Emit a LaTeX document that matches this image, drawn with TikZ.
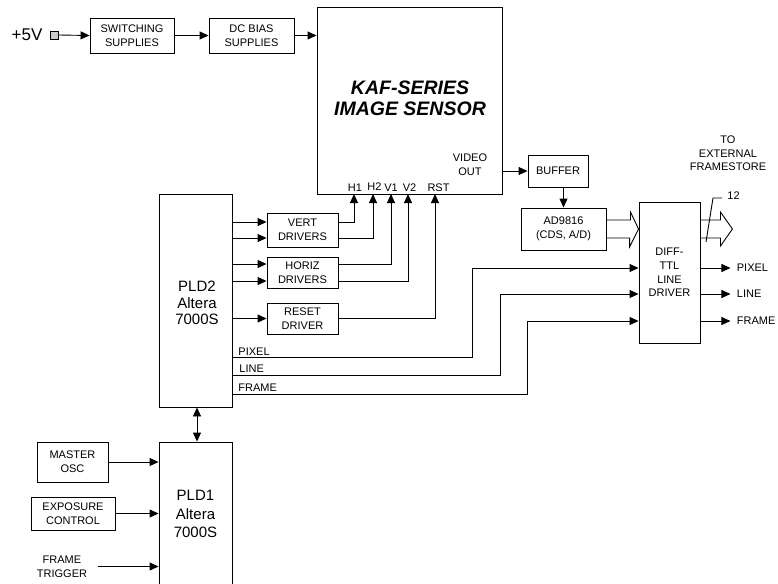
\documentclass[tikz,border=0pt]{standalone}
\usepackage{fontspec}
\setmainfont{Liberation Sans}
\usetikzlibrary{arrows.meta,calc}

\newcommand{\lblsize}{\fontsize{11}{13.7}\selectfont}

\begin{document}
\begin{tikzpicture}[x=1pt,y=-1pt,>={Triangle[length=9pt,width=8pt]},
  line width=0.9pt,
  blk/.style={draw,align=center,inner sep=0pt,font=\lblsize},
  lbl/.style={align=center,inner sep=0pt,font=\lblsize},
  sig/.style={->}]
  \useasboundingbox (0,0) rectangle (778,583);

  % supplies and sensor
  \node[font=\fontsize{17}{19}\selectfont,inner sep=0pt] (fivev) at (27,35) {+5V};
  \node[draw,fill=gray!40,line width=0.6pt,minimum size=8pt,inner sep=0pt] (sq) at (54.5,35) {};
  \node[blk,minimum width=84pt,minimum height=35pt] (sw) at (132,35.5) {SWITCHING\\SUPPLIES};
  \node[blk,minimum width=85pt,minimum height=35pt] (dcb) at (251.5,35.5) {DC BIAS\\SUPPLIES};
  \node[draw,minimum width=185pt,minimum height=187pt,inner sep=0pt] (sensor) at (409.5,100.5) {};
  \node[align=center,inner sep=0pt,font=\fontsize{19.5}{21}\selectfont\bfseries\itshape] (title) at (410,98.5) {KAF-SERIES\\IMAGE SENSOR};
  \node[lbl] (vout) at (470,165) {VIDEO\\OUT};
  \draw[sig] (sq.east) -- (sw.west);
  \draw[sig] (sw.east) -- (dcb.west);
  \draw[sig] (dcb.east) -- (dcb.east -| sensor.west);

  % sensor clock pins
  \node[lbl,anchor=base] (lH1) at (355,191.5) {H1};
  \node[lbl,anchor=base] (lH2) at (374.5,190.5) {H2};
  \node[lbl,anchor=base] (lV1) at (391,191.5) {V1};
  \node[lbl,anchor=base] (lV2) at (409.5,191.5) {V2};
  \node[lbl,anchor=base] (lRST) at (438.5,191.5) {RST};
  \coordinate (pH1) at (354,194);
  \coordinate (pH2) at (373,194);
  \coordinate (pV1) at (391,194);
  \coordinate (pV2) at (408,194);
  \coordinate (pRST) at (435,194);

  % analog chain
  \node[blk,minimum width=60pt,minimum height=32pt] (buffer) at (558,171) {BUFFER};
  \node[blk,minimum width=85pt,minimum height=42pt] (ad) at (563.5,229) {AD9816\\(CDS, A/D)};
  \node[blk,minimum width=61pt,minimum height=141pt] (diff) at (669.5,272.5) {DIFF-\\TTL\\LINE\\DRIVER};
  \node[lbl,font=\fontsize{11}{13.5}\selectfont] (ext) at (728,153.5) {TO\\EXTERNAL\\FRAMESTORE};
  \draw[sig] (sensor.east |- buffer.west) -- (buffer.west);
  \draw[sig] (ad.north |- buffer.south) -- (ad.north);
  \draw ([yshift=9pt]ad.east) -- ++(24,0) -- ++(0,-8) -- (diff.west |- ad.east)
    -- ++(-9,18) -- ++(0,-9) -- ([yshift=-9pt]ad.east);
  \draw ($(diff.east |- ad.east)+(0,-9)$) -- ++(20,0) -- ++(0,-8) -- ++(12,17)
    -- ++(-12,17) -- ++(0,-8) -- ++(-20,0);
  \draw (706,242) -- (713,198) -- (722,198);
  \node[lbl] (nbits) at (733.5,196) {12};

  % PLD2 and drivers
  \node[draw,minimum width=73pt,minimum height=213pt,inner sep=0pt] (pld2) at (195.5,300.5) {};
  \node[align=center,inner sep=0pt,font=\fontsize{15}{16.5}\selectfont] (pld2txt) at (197,303) {PLD2\\Altera\\7000S};
  \node[blk,minimum width=71pt,minimum height=34pt] (vert) at (302.5,230) {VERT\\DRIVERS};
  \node[blk,minimum width=71pt,minimum height=31pt] (horiz) at (302.5,272.5) {HORIZ\\DRIVERS};
  \node[blk,minimum width=71pt,minimum height=31pt] (reset) at (302.5,318.5) {RESET\\DRIVER};
  \path ([yshift=8pt]vert.west) coordinate (vin1)
        ([yshift=-8pt]vert.west) coordinate (vin2)
        ([yshift=8.5pt]horiz.west) coordinate (hin1)
        ([yshift=-8.5pt]horiz.west) coordinate (hin2);
  \draw[sig] (pld2.east |- vin1) -- (vin1);
  \draw[sig] (pld2.east |- vin2) -- (vin2);
  \draw[sig] (pld2.east |- hin1) -- (hin1);
  \draw[sig] (pld2.east |- hin2) -- (hin2);
  \draw[sig] (pld2.east |- reset.west) -- (reset.west);
  \draw[sig] ([yshift=8pt]vert.east) -| (pH1);
  \draw[sig] ([yshift=-8pt]vert.east) -| (pH2);
  \draw[sig] ([yshift=8.5pt]horiz.east) -| (pV1);
  \draw[sig] ([yshift=-8.5pt]horiz.east) -| (pV2);
  \draw[sig] (reset.east) -| (pRST);

  % timing signals to line driver
  \node[lbl,anchor=base west] (lpix) at (238,355) {PIXEL};
  \node[lbl,anchor=base west] (lline) at (239,372.5) {LINE};
  \node[lbl,anchor=base west] (lframe) at (238,391) {FRAME};
  \coordinate (pixS) at (232,357);
  \coordinate (pixT) at (472,268);
  \coordinate (lineS) at (232,375);
  \coordinate (lineT) at (500,294);
  \coordinate (frmS) at (232,394);
  \coordinate (frmT) at (527,321);
  \draw[sig] (pixS) -| (pixT) -- (diff.west |- pixT);
  \draw[sig] (lineS) -| (lineT) -- (diff.west |- lineT);
  \draw[sig] (frmS) -| (frmT) -- (diff.west |- frmT);
  \draw[sig] (diff.east |- pixT) -- ++(30,0) node[lbl,anchor=west,xshift=6pt] {PIXEL};
  \draw[sig] (diff.east |- lineT) -- ++(30,0) node[lbl,anchor=west,xshift=6pt] {LINE};
  \draw[sig] (diff.east |- frmT) -- ++(30,0) node[lbl,anchor=west,xshift=6pt] {FRAME};

  % PLD1 and its inputs
  \node[draw,align=center,inner sep=0pt,minimum width=73pt,minimum height=144pt,
    font=\fontsize{15}{18.5}\selectfont] (pld1) at (195.5,514) {PLD1\\Altera\\7000S};
  \node[blk,minimum width=71pt,minimum height=40pt] (masc) at (72.5,462) {MASTER\\OSC};
  \node[blk,minimum width=84pt,minimum height=33pt] (expo) at (73,513.5) {EXPOSURE\\CONTROL};
  \node[lbl] (ftrig) at (62,566.5) {FRAME\\TRIGGER};
  \draw[<->] (pld2.south -| 197,0) -- (pld1.north -| 197,0);
  \draw[sig] (masc.east) -- (pld1.west |- masc.east);
  \draw[sig] (expo.east) -- (pld1.west |- expo.east);
  \draw[sig] ([xshift=10pt]ftrig.east) -- (pld1.west |- ftrig.east);
\end{tikzpicture}
\end{document}
